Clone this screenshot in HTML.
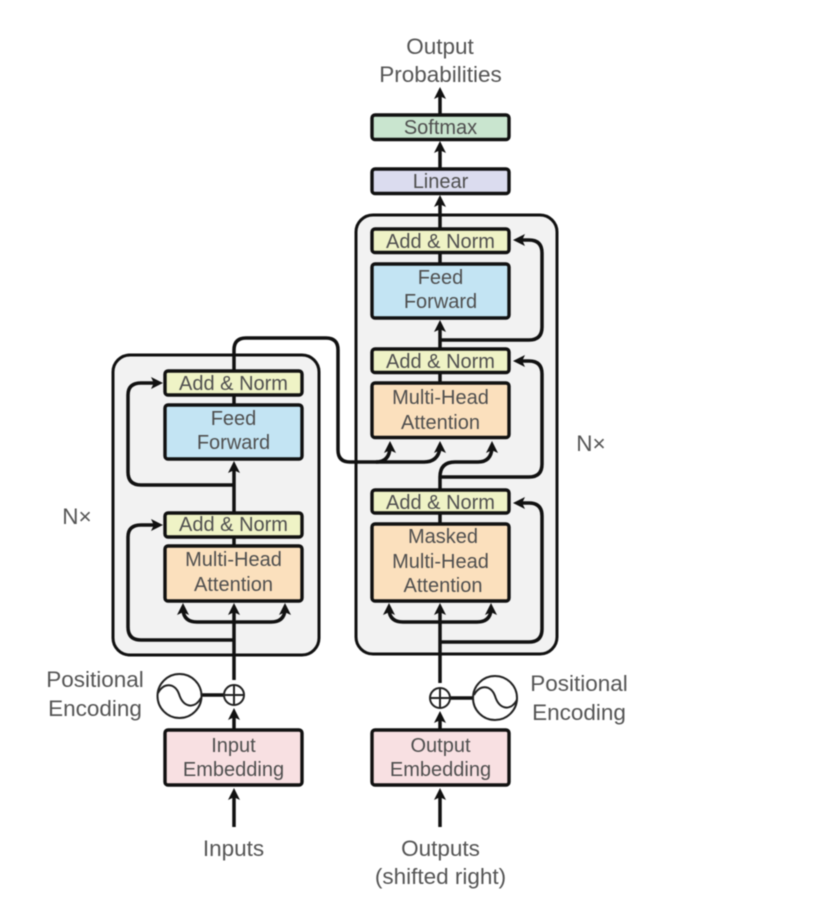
<!DOCTYPE html>
<html><head><meta charset="utf-8"><style>
html,body{margin:0;padding:0;background:#fff;width:836px;height:916px;overflow:hidden}
svg{display:block;filter:blur(0.6px)}
text{font-family:"Liberation Sans",sans-serif;font-size:20px;fill:#4f4f4f;text-anchor:middle}
text.o{font-size:22.5px;fill:#555}
.b{stroke:#111;stroke-width:3.4;}
.w{fill:none;stroke:#111;stroke-width:3.5;}
.t{fill:none;stroke:#222;stroke-width:2;}
.a{fill:#111;stroke:none}
</style></head><body>
<svg width="836" height="916" viewBox="0 0 836 916" xmlns="http://www.w3.org/2000/svg">
<defs><path id="u" d="M0 0l-6 12 6-2.800 6 2.800z"/></defs>
<!-- containers -->
<rect x="113" y="355" width="206" height="300" rx="17" fill="#f2f2f2" stroke="#111" stroke-width="3"/>
<rect x="356" y="215" width="201" height="439" rx="17" fill="#f2f2f2" stroke="#111" stroke-width="3"/>

<!-- wires left -->
<path class="w" d="M234 827V795M234 729V712M234 680V610M234 545V530M234 512V465M234 404V396M234 370V350Q234 338 246 338H326Q338 338 338 350V450Q338 462 350 462H424Q438 462 440 448"/>
<path class="w" d="M234 485H141Q128 485 128 472V395Q128 383 141 383H156"/>
<path class="w" d="M234 640H141Q128 640 128 627V537Q128 525 141 525H156"/>
<path class="w" d="M183 610Q184 622 197 622H271Q284 622 285 610"/>
<path class="w" d="M376 462Q389 462 390 448"/>
<!-- wires right -->
<path class="w" d="M440 827V795M440 729V715M440 683V610M440 523V513M440 489V477Q440 462 455 462H478Q491 462 492 448M440 382V373M440 348V326M440 263V253M440 228V200M440 168V150M440 114V95"/>
<path class="w" d="M440 477H529Q542 477 542 464V374Q542 361 529 361H520"/>
<path class="w" d="M440 642H529Q542 642 542 629V516Q542 503 529 503H520"/>
<path class="w" d="M440 340H529Q542 340 542 327V253Q542 240 529 240H520"/>
<path class="w" d="M389 610Q390 622 403 622H477Q490 622 491 610"/>

<!-- boxes -->
<rect class="b" x="165" y="371" width="137" height="24" rx="3" fill="#eff3c6"/>
<rect class="b" x="165" y="405" width="137" height="54" rx="3" fill="#c3e4f3"/>
<rect class="b" x="165" y="513" width="137" height="24" rx="3" fill="#eff3c6"/>
<rect class="b" x="165" y="546" width="137" height="55" rx="3" fill="#fbe0bd"/>
<rect class="b" x="165" y="730" width="137" height="55" rx="3" fill="#f8e0e2"/>
<rect class="b" x="372" y="115" width="137" height="24.500" rx="3" fill="#c9e5cf"/>
<rect class="b" x="372" y="169" width="137" height="24.500" rx="3" fill="#dbdcef"/>
<rect class="b" x="372" y="229" width="137" height="23.500" rx="3" fill="#eff3c6"/>
<rect class="b" x="372" y="264" width="137" height="54" rx="3" fill="#c3e4f3"/>
<rect class="b" x="372" y="349" width="137" height="23.500" rx="3" fill="#eff3c6"/>
<rect class="b" x="372" y="383" width="137" height="54.500" rx="3" fill="#fbe0bd"/>
<rect class="b" x="372" y="490" width="137" height="23" rx="3" fill="#eff3c6"/>
<rect class="b" x="372" y="524" width="137" height="77" rx="3" fill="#fbe0bd"/>
<rect class="b" x="372" y="730" width="137" height="55" rx="3" fill="#f8e0e2"/>

<!-- arrowheads up -->
<use class="a" href="#u" x="440" y="87"/>
<use class="a" href="#u" x="440" y="141"/>
<use class="a" href="#u" x="440" y="195"/>
<use class="a" href="#u" x="440" y="320"/>
<use class="a" href="#u" x="390" y="441"/>
<use class="a" href="#u" x="440" y="441"/>
<use class="a" href="#u" x="492" y="441"/>
<use class="a" href="#u" x="389" y="603"/>
<use class="a" href="#u" x="440" y="603"/>
<use class="a" href="#u" x="491" y="603"/>
<use class="a" href="#u" x="440" y="788"/>
<use class="a" href="#u" x="440" y="711"/>
<use class="a" href="#u" x="234" y="461"/>
<use class="a" href="#u" x="183" y="603"/>
<use class="a" href="#u" x="234" y="603"/>
<use class="a" href="#u" x="285" y="603"/>
<use class="a" href="#u" x="234" y="788"/>
<use class="a" href="#u" x="234" y="708"/>
<!-- horizontal heads -->
<path class="a" d="M163 383l-12-6 2.800 6-2.800 6zM163 525l-12-6 2.800 6-2.800 6zM513 240l12-6-2.800 6 2.800 6zM513 361l12-6-2.800 6 2.800 6zM513 503l12-6-2.800 6 2.800 6z"/>

<!-- positional left -->
<path class="w" d="M201 695H224"/>
<circle class="t" cx="234" cy="695" r="10" fill="none"/>
<path class="t" d="M224 695H244M234 685V705"/>
<circle class="t" cx="179.500" cy="696" r="22" fill="none"/>
<path class="t" d="M158 693C164 682 175 683 179 694C183 707 194 710 201 698"/>
<!-- positional right -->
<path class="w" d="M450 698H473"/>
<circle class="t" cx="440" cy="698" r="10" fill="none"/>
<path class="t" d="M430 698H450M440 688V708"/>
<circle class="t" cx="495" cy="698" r="22" fill="none"/>
<path class="t" d="M474 695C480 684 491 685 495 696C499 709 510 712 517 700"/>

<!-- labels -->
<text class="o" x="440" y="54">Output</text>
<text class="o" x="440.500" y="82">Probabilities</text>
<text x="440.500" y="134">Softmax</text>
<text x="440.500" y="188">Linear</text>
<text x="440.500" y="248">Add &amp; Norm</text>
<text x="440.500" y="284">Feed</text>
<text x="440.500" y="308">Forward</text>
<text x="440.500" y="368">Add &amp; Norm</text>
<text x="440.500" y="404">Multi-Head</text>
<text x="440.500" y="429">Attention</text>
<text x="440.500" y="509">Add &amp; Norm</text>
<text x="443" y="543">Masked</text>
<text x="440.500" y="568">Multi-Head</text>
<text x="443" y="592">Attention</text>
<text x="440.500" y="752">Output</text>
<text x="440.500" y="776">Embedding</text>
<text x="233.500" y="390">Add &amp; Norm</text>
<text x="233.500" y="425">Feed</text>
<text x="233.500" y="449">Forward</text>
<text x="233.500" y="531">Add &amp; Norm</text>
<text x="233.500" y="566">Multi-Head</text>
<text x="233.500" y="591">Attention</text>
<text x="233.500" y="752">Input</text>
<text x="233.500" y="776">Embedding</text>
<text class="o" x="233.500" y="856">Inputs</text>
<text class="o" x="440.500" y="856">Outputs</text>
<text class="o" x="440.500" y="884">(shifted right)</text>
<text class="o" x="95" y="687">Positional</text>
<text class="o" x="95" y="716">Encoding</text>
<text class="o" x="579" y="691">Positional</text>
<text class="o" x="579" y="720">Encoding</text>
<text class="o" x="77" y="524">N×</text>
<text class="o" x="591" y="451">N×</text>
</svg>
</body></html>
